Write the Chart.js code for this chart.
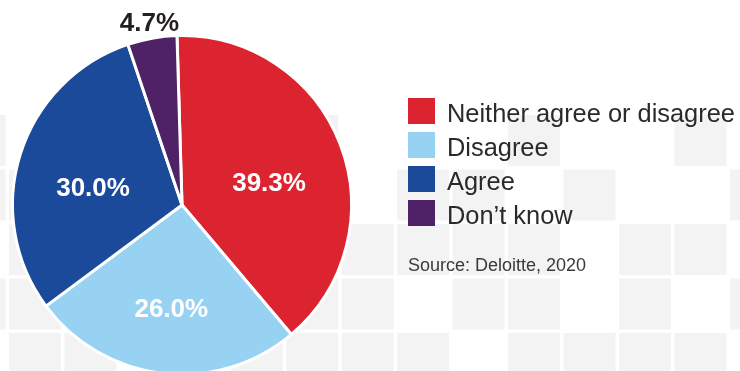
<!DOCTYPE html>
<html>
<head>
<meta charset="utf-8">
<script src="https://cdn.jsdelivr.net/npm/chart.js@4/dist/chart.umd.min.js"></script>
<style>
  html, body { margin: 0; padding: 0; width: 740px; height: 371px; overflow: hidden; background: #ffffff; }
  #wrap { position: relative; width: 740px; height: 371px; }
  #c { position: absolute; left: 0; top: 0; }
  #legend { position: absolute; left: 408px; top: 98px; font-family: "Liberation Sans", Arial, Helvetica, sans-serif; }
  .row { display: flex; align-items: flex-start; height: 34.1px; }
  .sw { width: 27px; height: 26px; flex: none; }
  .lt { margin-left: 12px; font-size: 25.4px; line-height: 26px; padding-top: 2px; color: #2a2a2a; white-space: nowrap; }
  #source { position: absolute; left: 408px; top: 256px; font-family: "Liberation Sans", Arial, Helvetica, sans-serif; font-size: 18px; line-height: 18px; color: #3a3a3a; white-space: nowrap; }
</style>
</head>
<body>
<div id="wrap">
  <canvas id="c" width="740" height="380"></canvas>
  <div id="legend"></div>
  <div id="source"></div>
</div>
<script>
// ---- data ----
const categories = ["Neither agree or disagree", "Disagree", "Agree", "Don\u2019t know"];
const shares = [39.3, 26.0, 30.0, 4.7];
const sliceColors = ["#dc2431", "#98d2f2", "#1b4a9b", "#4f2267"];
const sourceText = "Source: Deloitte, 2020";

// decorative background tiles (row, column) indices
const bgTiles = [
  [0,-1],[0,5],[0,9],[0,12],
  [1,-1],[1,0],[1,7],[1,8],[1,10],[1,13],
  [2,0],[2,5],[2,6],[2,7],[2,8],[2,9],[2,11],[2,12],
  [3,-1],[3,0],[3,5],[3,6],[3,8],[3,9],[3,11],[3,13],
  [4,0],[4,1],[4,4],[4,5],[4,6],[4,7],[4,9],[4,10],[4,11],[4,12]
];

// ---- HTML legend & source (real text) ----
const legendEl = document.getElementById('legend');
categories.forEach((name, i) => {
  const row = document.createElement('div');
  row.className = 'row';
  const sw = document.createElement('div');
  sw.className = 'sw';
  sw.style.background = sliceColors[i];
  const t = document.createElement('div');
  t.className = 'lt';
  t.textContent = name;
  row.appendChild(sw); row.appendChild(t);
  legendEl.appendChild(row);
});
document.getElementById('source').textContent = sourceText;

// ---- plugins ----
const tilePlugin = {
  id: 'tiles',
  beforeDraw(chart) {
    const ctx = chart.ctx;
    ctx.save();
    ctx.fillStyle = '#f3f3f3';
    bgTiles.forEach(([r, c]) => {
      const x = 9 + 55.45 * c;
      const y = 115 + 54.5 * r;
      ctx.fillRect(x, y, 52, 51);
    });
    ctx.restore();
  }
};

const labelPlugin = {
  id: 'sliceLabels',
  afterDatasetsDraw(chart) {
    const ctx = chart.ctx;
    const meta = chart.getDatasetMeta(0);
    const data = chart.data.datasets[0].data;
    ctx.save();
    ctx.font = 'bold 26px "Liberation Sans", Arial, Helvetica, sans-serif';
    ctx.textAlign = 'center';
    ctx.textBaseline = 'middle';
    meta.data.forEach((arc, i) => {
      const p = arc.getProps(['x', 'y', 'startAngle', 'endAngle', 'outerRadius'], true);
      const mid = (p.startAngle + p.endAngle) / 2;
      const txt = data[i].toFixed(1) + '%';
      if (data[i] < 10) {
        const r = p.outerRadius + 15;
        ctx.fillStyle = '#231f20';
        ctx.fillText(txt, p.x + Math.cos(mid) * r, p.y + Math.sin(mid) * r);
      } else {
        const r = p.outerRadius * 0.55;
        ctx.fillStyle = '#ffffff';
        ctx.fillText(txt, p.x + Math.cos(mid) * r, p.y + Math.sin(mid) * r + 12);
      }
    });
    ctx.restore();
  }
};

new Chart(document.getElementById('c'), {
  type: 'pie',
  data: {
    labels: categories,
    datasets: [{
      data: shares,
      backgroundColor: sliceColors,
      borderColor: '#ffffff',
      borderWidth: 3
    }]
  },
  options: {
    responsive: false,
    animation: false,
    rotation: -1.7,
    layout: { padding: { left: 11, right: 387, top: 34, bottom: 4 } },
    plugins: {
      legend: { display: false },
      tooltip: { enabled: false }
    }
  },
  plugins: [tilePlugin, labelPlugin]
});
</script>
</body>
</html>
